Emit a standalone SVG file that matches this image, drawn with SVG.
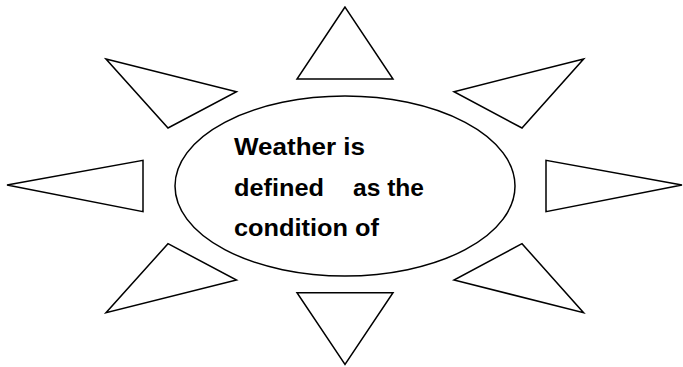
<svg xmlns="http://www.w3.org/2000/svg" width="683" height="367" viewBox="0 0 683 367">
<style>
.s{fill:#fff;stroke:#000;stroke-width:1.5;stroke-linejoin:miter}
.t{font-family:"Liberation Sans",Arial,sans-serif;font-weight:bold;font-size:23.5px;fill:#000}
</style>
<rect width="683" height="367" fill="#fff"/>
<g id="ray-top"><polygon class="s" points="345,7 297,79 393,79"/></g>
<g id="ray-upper-left"><polygon class="s" points="106,59 236.5,91.7 168,128"/></g>
<g id="ray-upper-right"><polygon class="s" points="583.6,59 454,91.7 522,128"/></g>
<g id="ray-left"><polygon class="s" points="7,185 143,160.3 143,211.7"/></g>
<g id="ray-right"><polygon class="s" points="682,185 546,160.3 546,211.7"/></g>
<g id="ray-lower-left"><polygon class="s" points="168,243.7 236.5,280 106,312.7"/></g>
<g id="ray-lower-right"><polygon class="s" points="522,243.7 454,280 583.6,312.7"/></g>
<g id="ray-bottom"><polygon class="s" points="297,292.7 393,292.7 345,364.3"/></g>
<g id="center">
<ellipse class="s" cx="345" cy="186" rx="170" ry="90"/>
<text class="t" x="234" y="155" textLength="131" lengthAdjust="spacingAndGlyphs">Weather is</text>
<text class="t" y="195.5"><tspan x="234" textLength="90" lengthAdjust="spacingAndGlyphs">defined</tspan><tspan x="353" textLength="71" lengthAdjust="spacingAndGlyphs">as the</tspan></text>
<text class="t" x="234" y="236" textLength="145" lengthAdjust="spacingAndGlyphs">condition of</text>
</g>
</svg>
